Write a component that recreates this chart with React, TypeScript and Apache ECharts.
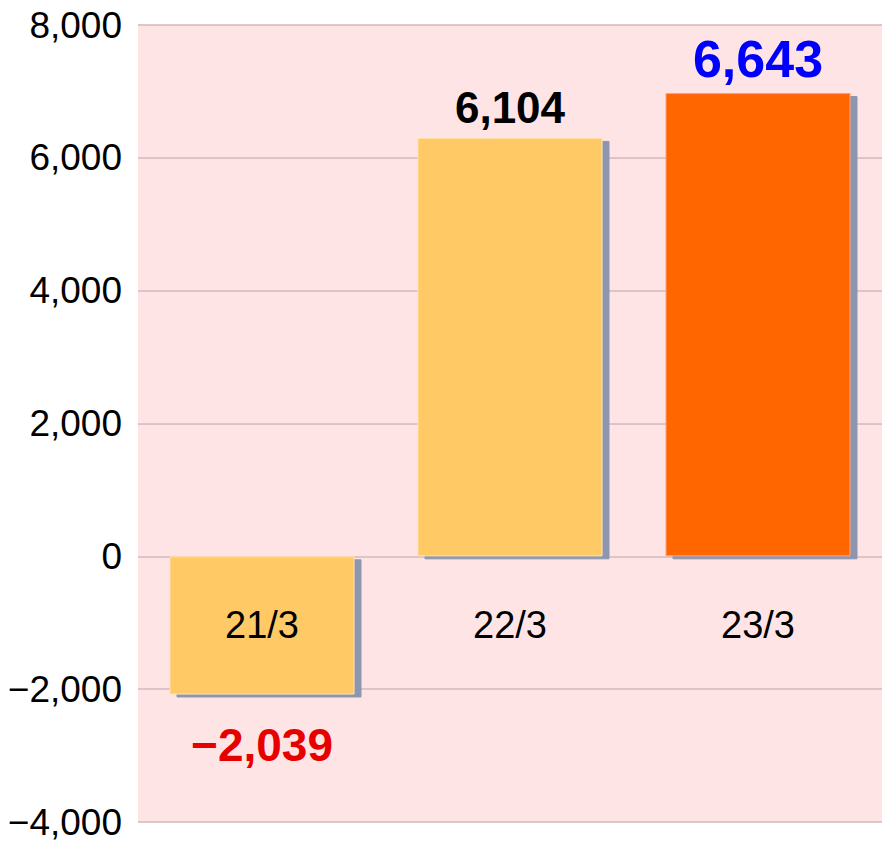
import React, { useEffect, useRef } from "react";
import * as echarts from "echarts";

const categories = ["21/3", "22/3", "23/3"];
// bar heights as drawn in the picture
const barHeights = [-2080, 6300, 6975];
// value labels as printed in the picture
const valueLabels = ["−2,039", "6,104", "6,643"];
const barColors = ["#FFCA66", "#FFCA66", "#FF6600"];
const labelColors = ["#E60000", "#000000", "#0000FF"];
const labelSizes = [46, 44, 52];
const yMin = -4000;
const yMax = 8000;
const yInterval = 2000;

const FONT = "'Liberation Sans', 'Noto Sans CJK JP', sans-serif";

export default function App() {
  const ref = useRef<HTMLDivElement>(null);
  useEffect(() => {
    if (!ref.current) return;
    const chart = echarts.init(ref.current, null, { renderer: "svg" });
    chart.setOption({
      animation: false,
      grid: { left: 138, right: 1, top: 25, bottom: 22, containLabel: false, outerBoundsMode: "none" },
      xAxis: {
        type: "category",
        data: categories,
        position: "bottom",
        offset: -266,
        axisLine: { show: false, onZero: false },
        axisTick: { show: false },
        axisLabel: { margin: 50, fontSize: 38, color: "#000", fontFamily: FONT },
        splitLine: { show: false },
        z: 10,
      },
      yAxis: {
        type: "value",
        min: yMin,
        max: yMax,
        interval: yInterval,
        axisLine: { show: false },
        axisTick: { show: false },
        axisLabel: {
          margin: 16,
          fontSize: 37,
          color: "#000",
          fontFamily: FONT,
          formatter: (v: number) =>
            (v < 0 ? "−" : "") + Math.abs(v).toLocaleString("en-US"),
        },
        splitLine: { show: true, lineStyle: { color: "#D2B9BC", width: 1.5 } },
        splitArea: { show: true, areaStyle: { color: ["#FFE4E6", "#FFE4E6"] } },
      },
      series: [
        {
          type: "bar",
          barWidth: 185,
          data: barHeights.map((v, i) => ({
            value: v,
            itemStyle: {
              color: barColors[i],
              borderColor: i === 2 ? "#FFA070" : "#FFE2A8",
              borderWidth: 1,
              shadowColor: "#8C96B0",
              shadowOffsetX: 7,
              shadowOffsetY: 3,
              shadowBlur: 0,
            },
            label: {
              show: true,
              position: v < 0 ? "bottom" : "top",
              distance: v < 0 ? 28 : 8,
              formatter: valueLabels[i],
              color: labelColors[i],
              fontSize: labelSizes[i],
              fontWeight: "bold",
              fontFamily: FONT,
            },
          })),
        },
      ],
    });
    return () => chart.dispose();
  }, []);
  return (
    <div
      ref={ref}
      style={{ position: "fixed", left: 0, top: 0, width: 883, height: 844, background: "#fff" }}
    />
  );
}
